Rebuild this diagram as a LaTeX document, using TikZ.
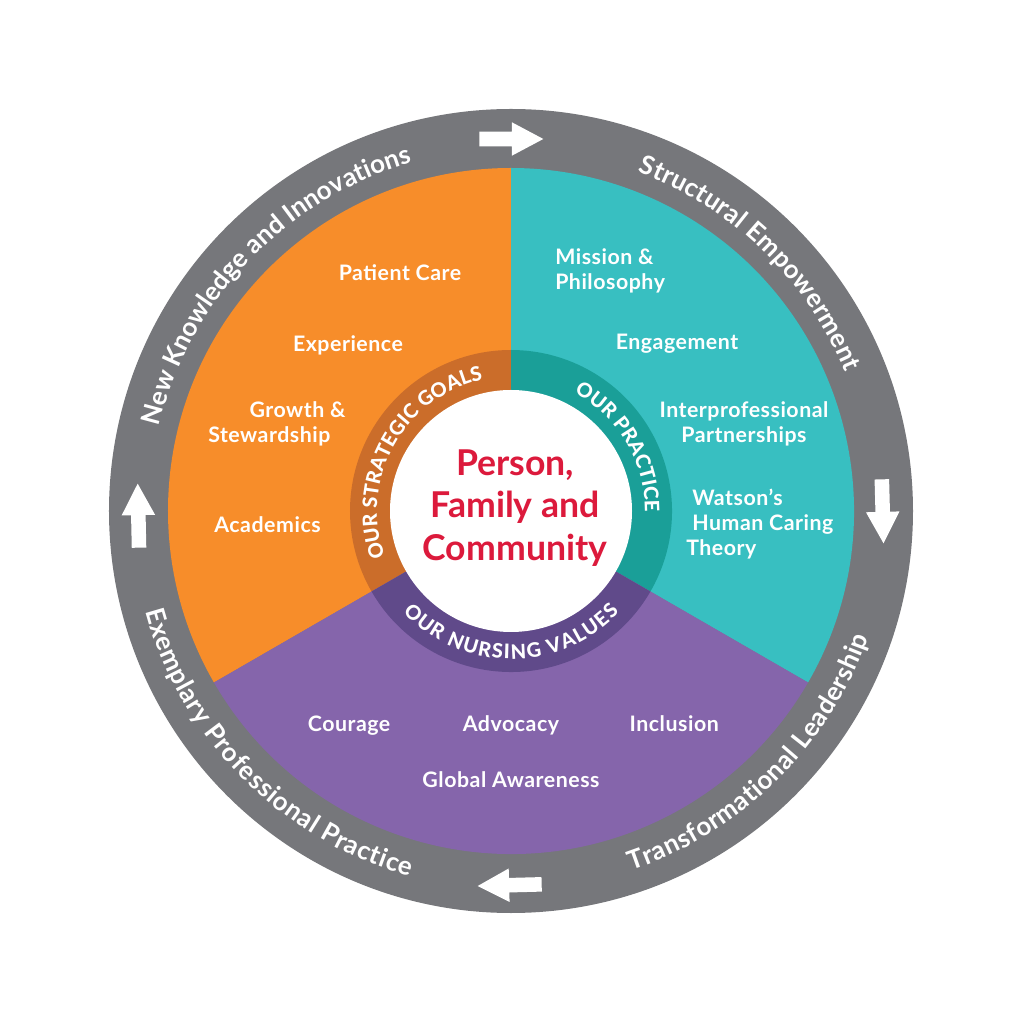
\documentclass[tikz,border=0pt]{standalone}
\usepackage{fontspec}
\setmainfont{Lato}
\newfontfamily\labelface{Lato Bold}
\newfontfamily\ringface{Lato Heavy}
\usetikzlibrary{positioning,decorations.text,shapes.arrows}
\definecolor{bandgray}{HTML}{76777B}
\definecolor{goalorange}{HTML}{F78D2A}
\definecolor{goalring}{HTML}{CB6D2A}
\definecolor{practeal}{HTML}{38BFC1}
\definecolor{pracring}{HTML}{1A9F98}
\definecolor{valpurple}{HTML}{8565AB}
\definecolor{valring}{HTML}{604A8A}
\definecolor{corered}{HTML}{DC1A3C}
\newcommand{\bandfont}{\fontsize{19.5}{22}\labelface}
\newcommand{\ringfont}{\fontsize{15}{18}\ringface}
\tikzset{
  item/.style={text=white,font=\fontsize{16}{19}\labelface\addfontfeatures{LetterSpace=2.5}\selectfont,inner sep=0pt},
  oneline/.style={item,text height=11.5pt,text depth=3.5pt},
  core/.style={text=corered,font=\fontsize{26.7}{32}\labelface\selectfont,align=center,inner sep=0pt},
  turnarrow/.style={single arrow,fill=white,inner xsep=0pt,inner ysep=5.25pt,minimum height=48pt,minimum width=24.75pt,
    single arrow head extend=7.1pt,single arrow tip angle=56},
  bandtext/.style={decorate,decoration={text along path,text align=fit to path,text color=white,text={|\bandfont|#1}}},
  ringtext/.style={decorate,decoration={text along path,text align=fit to path,text color=white,text={|\ringfont|#1}}}
}

\begin{document}
\begin{tikzpicture}[x=.75pt,y=.75pt]
  \useasboundingbox (-511,-512) rectangle (512,511);
  \fill[bandgray] (0,0) circle (402);
  % sectors and their darker ring parts
  \foreach \sector/\ringpart/\from/\to in {goalorange/goalring/90/210,practeal/pracring/-30/90,valpurple/valring/210/330}{
    \fill[\sector] (0,0) -- (\from:343) arc[start angle=\from,end angle=\to,radius=343] -- cycle;
    \fill[\ringpart] (0,0) -- (\from:161) arc[start angle=\from,end angle=\to,radius=161] -- cycle;
  }
  \node[circle,fill=white,minimum size=181.5pt,inner sep=0pt] (hub) at (0,0) {};
  \node[core] (person) at (4,3) {Person,\\Family and\\Community};

  % band
  \path[bandtext={Structural Empowerment}] (69.5:362) arc[start angle=69.5,end angle=22.5,radius=362];
  \path[bandtext={New Knowledge and Innovations}] (166.5:362) arc[start angle=166.5,end angle=106,radius=362];
  \path[bandtext={Transformational Leadership}] (-71.5:379) arc[start angle=-71.5,end angle=-19.5,radius=379];
  \path[bandtext={Exemplary Professional Practice}] (195.3:379) arc[start angle=195.3,end angle=254.5,radius=379];

  % ring
  \path[ringtext={OUR STRATEGIC GOALS}] (200:134) arc[start angle=200,end angle=102,radius=134];
  \path[ringtext={OUR PRACTICE}] (62:134) arc[start angle=62,end angle=-0.5,radius=134];
  \path[ringtext={OUR NURSING VALUES}] (223:148) arc[start angle=223,end angle=317,radius=148];

  % arrows
  \node[turnarrow] (arrowtop) at (-6.5,372) {};
  \node[turnarrow,rotate=-88.5] (arrowright) at (371.5,6.5) {};
  \node[turnarrow,rotate=181.5] (arrowbottom) at (5.5,-374) {};
  \node[turnarrow,rotate=91.2] (arrowleft) at (-372.5,-11.5) {};

  % goals
  \node[oneline] (patient) at (-111,236) {Patient Care};
  \node[oneline] (experience) at (-163,165) {Experience};
  \node[item,align=left,anchor=west] (growth) at (-303,87) {\hspace*{31pt}Growth \&\\Stewardship};
  \node[oneline] (academics) at (-243.5,-16) {Academics};
  % practice
  \node[item,align=left,anchor=west] (mission) at (44,240) {Mission \&\\Philosophy};
  \node[oneline] (engagement) at (166,167) {Engagement};
  \node[item,align=center] (partners) at (233,87) {Interprofessional\\Partnerships};
  \node[item,align=left,anchor=west] (watson) at (175,-13) {\hspace*{4.5pt}Watson’s\\\hspace*{4.5pt}Human Caring\\Theory};
  % values
  \node[oneline] (advocacy) at (0,-215) {Advocacy};
  \node[oneline] (courage) [left=54pt of advocacy] {Courage};
  \node[oneline] (inclusion) [right=52.5pt of advocacy] {Inclusion};
  \node[oneline] (awareness) [below=27pt of advocacy] {Global Awareness};
\end{tikzpicture}
\end{document}
